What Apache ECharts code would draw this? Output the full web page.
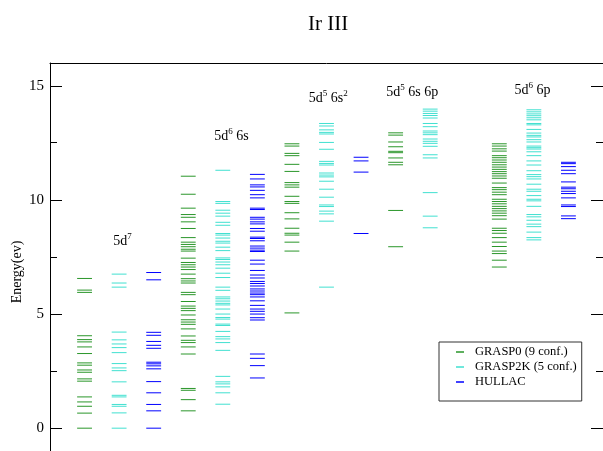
<!DOCTYPE html>
<html>
<head>
<meta charset="utf-8">
<script src="https://cdn.jsdelivr.net/npm/echarts@6/dist/echarts.min.js"></script>
<style>
  html, body { margin: 0; padding: 0; background: #fff; }
  #chart { width: 603px; height: 451px; }
</style>
</head>
<body>
<div id="chart"></div>
<script>
// Ir III energy levels (eV) for each configuration and method
const configs = ['5d7', '5d6 6s', '5d5 6s2', '5d5 6s 6p', '5d6 6p'];
const methods = ['GRASP0 (9 conf.)', 'GRASP2K (5 conf.)', 'HULLAC'];

const grasp0_5d7 = [0, 0.66, 0.96, 1.15, 1.37, 2.06, 2.16, 2.45, 2.55, 2.76, 2.86, 3.27, 3.56, 3.78, 3.88, 4.05, 5.95, 6.05, 6.56];
const grasp2k_5d7 = [0, 0.67, 0.96, 1.04, 1.37, 1.44, 2.03, 2.52, 2.64, 2.83, 3.31, 3.53, 3.69, 3.87, 4.21, 6.18, 6.36, 6.75];
const hullac_5d7 = [0, 0.76, 1.04, 1.55, 2.04, 2.60, 2.73, 2.82, 2.89, 3.50, 3.63, 3.80, 4.07, 4.20, 6.50, 6.82];

const grasp0_5d6_6s = [0.76, 1.25, 1.66, 1.74, 3.25, 3.56, 3.75, 3.85, 4.04, 4.35, 4.55, 4.65, 4.75, 4.96, 5.15, 5.25, 5.35, 5.55, 5.85, 5.95, 6.36, 6.45, 6.55, 6.75, 6.95, 7.06, 7.16, 7.26, 7.45, 7.76, 7.84, 7.95, 8.05, 8.15, 8.35, 8.75, 9.04, 9.24, 9.36, 9.64, 10.25, 11.04];
const grasp2k_5d6_6s = [1.05, 1.55, 1.81, 1.94, 2.03, 2.27, 3.41, 3.75, 3.91, 4.01, 4.24, 4.50, 4.56, 4.78, 4.85, 5.00, 5.22, 5.40, 5.47, 5.57, 5.67, 5.75, 6.04, 6.18, 6.60, 6.79, 7.01, 7.16, 7.28, 7.39, 7.46, 7.78, 7.93, 8.11, 8.19, 8.33, 8.46, 8.53, 8.89, 9.02, 9.29, 9.42, 9.55, 9.85, 9.93, 11.30];
const hullac_5d6_6s = [2.20, 2.74, 3.06, 3.25, 4.74, 4.84, 5.00, 5.12, 5.22, 5.38, 5.58, 5.75, 5.85, 5.92, 6.01, 6.10, 6.23, 6.34, 6.43, 6.58, 6.71, 6.91, 7.19, 7.36, 7.74, 7.80, 7.89, 7.98, 8.21, 8.31, 8.37, 8.63, 8.75, 8.95, 9.04, 9.16, 9.24, 9.58, 9.64, 10.09, 10.23, 10.42, 10.57, 10.66, 10.92, 11.12];

const grasp0_5d5_6s2 = [5.05, 7.76, 8.15, 8.46, 8.54, 8.76, 9.17, 9.44, 9.85, 9.93, 10.16, 10.56, 10.66, 10.76, 11.25, 11.56, 11.94, 12.04, 12.36, 12.46];
const grasp2k_5d5_6s2 = [6.18, 9.07, 9.39, 9.51, 9.71, 9.78, 10.12, 10.47, 10.82, 11.01, 11.09, 11.18, 11.53, 11.60, 11.69, 12.22, 12.52, 12.89, 12.96, 13.07, 13.24, 13.35];
const hullac_5d5_6s2 = [8.53, 11.22, 11.71, 11.87];

const grasp0_5d5_6s_6p = [7.95, 9.54, 11.54, 11.65, 11.84, 12.07, 12.13, 12.33, 12.54, 12.84, 12.94];
const grasp2k_5d5_6s_6p = [8.78, 9.29, 10.32, 11.84, 11.98, 12.35, 12.48, 12.57, 12.67, 12.86, 12.94, 13.02, 13.21, 13.35, 13.59, 13.70, 13.79, 13.89, 13.98];
const hullac_5d5_6s_6p = [];

const grasp0_5d6_6p = [7.06, 7.36, 7.65, 7.76, 7.96, 8.15, 8.35, 8.54, 8.66, 8.76, 9.16, 9.31, 9.42, 9.52, 9.62, 9.72, 9.83, 9.93, 10.03, 10.23, 10.34, 10.45, 10.54, 10.74, 10.95, 11.05, 11.15, 11.24, 11.34, 11.44, 11.54, 11.65, 11.75, 11.85, 11.94, 12.14, 12.24, 12.36, 12.46];
const grasp2k_5d6_6p = [8.25, 8.35, 8.59, 8.83, 8.94, 9.11, 9.26, 9.36, 9.72, 9.96, 10.03, 10.19, 10.38, 10.47, 10.69, 10.92, 11.02, 11.11, 11.28, 11.53, 11.71, 11.94, 12.11, 12.23, 12.29, 12.36, 12.54, 12.64, 12.76, 12.83, 12.93, 13.09, 13.29, 13.35, 13.51, 13.60, 13.69, 13.77, 13.86, 13.95];
const hullac_5d6_6p = [9.18, 9.30, 9.71, 9.78, 10.09, 10.28, 10.38, 10.49, 10.56, 10.79, 11.15, 11.30, 11.46, 11.59, 11.65];

// first column slot of each configuration group; methods sit in consecutive slots
const groupSlots = [0, 3, 6, 9, 12];

// configuration labels (rich text) and their anchor in data space
const configLabels = ['{b|5d}{s|7}', '{b|5d}{s|6}{b| 6s}', '{b|5d}{s|5}{b| 6s}{s|2}', '{b|5d}{s|5}{b| 6s 6p}', '{b|5d}{s|6}{b| 6p}'];
const labelSlot = [1.1, 4.25, 7.05, 9.48, 12.96];
const labelEnergy = [8.2, 12.8, 14.46, 14.73, 14.8];

const yMajorTicks = [0, 5, 10, 15];
const yMinorTicks = [2.5, 7.5, 12.5];

const X_MIN = -1, X_MAX = 15;

const levelsByMethod = [
  [grasp0_5d7, grasp0_5d6_6s, grasp0_5d5_6s2, grasp0_5d5_6s_6p, grasp0_5d6_6p],
  [grasp2k_5d7, grasp2k_5d6_6s, grasp2k_5d5_6s2, grasp2k_5d5_6s_6p, grasp2k_5d6_6p],
  [hullac_5d7, hullac_5d6_6s, hullac_5d5_6s2, hullac_5d5_6s_6p, hullac_5d6_6p]
];
const methodColors = ['#2a962a', '#40e0d0', '#0000ff'];

const SERIF = '"Liberation Serif", "DejaVu Serif", serif';
const HALF = 0.215;     // half length of a level bar, in slot units
const MINOR_LEN = 7;    // minor tick length, px

function levelSeries(m) {
  const data = [];
  levelsByMethod[m].forEach((arr, g) => {
    arr.forEach(e => data.push([groupSlots[g] + m, e]));
  });
  return {
    name: methods[m],
    type: 'custom',
    itemStyle: { color: methodColors[m] },
    silent: true,
    data: data,
    renderItem: function (params, api) {
      const x = api.value(0), e = api.value(1);
      const p1 = api.coord([x - HALF, e]);
      const p2 = api.coord([x + HALF, e]);
      return {
        type: 'line',
        shape: { x1: p1[0], y1: p1[1], x2: p2[0], y2: p2[1] },
        style: { stroke: methodColors[m], lineWidth: 1 }
      };
    }
  };
}

// minor ticks on both vertical frame edges, placed through the scales
const minorTickSeries = {
  name: 'minor-ticks',
  type: 'custom',
  silent: true,
  clip: false,
  z: 10,
  data: yMinorTicks.map(v => [X_MIN, v]),
  renderItem: function (params, api) {
    const v = api.value(1);
    const l = api.coord([X_MIN, v]);
    const r = api.coord([X_MAX, v]);
    const y = Math.round(l[1] - 0.5) + 0.5;
    return {
      type: 'group',
      children: [
        { type: 'line', shape: { x1: l[0], y1: y, x2: l[0] + MINOR_LEN, y2: y }, style: { stroke: '#000', lineWidth: 1 } },
        { type: 'line', shape: { x1: r[0], y1: y, x2: r[0] - MINOR_LEN, y2: y }, style: { stroke: '#000', lineWidth: 1 } }
      ]
    };
  }
};

const labelData = labelSlot.map((s, i) => [s, labelEnergy[i], i]);

function yAxisDef(position, withLabels) {
  return {
    type: 'value', min: -1, max: 16, position: position, offset: 0,
    axisLine: { show: true, onZero: false, lineStyle: { color: '#000', width: 1 } },
    axisTick: { show: true, inside: true, length: 12, customValues: yMajorTicks, lineStyle: { color: '#000' } },
    axisLabel: withLabels
      ? { show: true, customValues: yMajorTicks, margin: 6, color: '#000', fontFamily: SERIF, fontSize: 15 }
      : { show: false },
    splitLine: { show: false }
  };
}

const chart = echarts.init(document.getElementById('chart'), null, { renderer: 'canvas' });

const option = {
  animation: false,
  backgroundColor: '#fff',
  title: {
    text: 'Ir III',
    left: 308,
    top: 14,
    padding: 0,
    textStyle: { fontFamily: SERIF, fontSize: 21, fontWeight: 'normal', color: '#000' }
  },
  grid: { left: 50, top: 63, width: 556, height: 388, show: false, containLabel: false },
  xAxis: {
    type: 'value', min: X_MIN, max: X_MAX, position: 'top',
    axisLine: { show: true, onZero: false, lineStyle: { color: '#000', width: 1 } },
    axisTick: { show: false }, axisLabel: { show: false }, splitLine: { show: false }
  },
  yAxis: [yAxisDef('left', true), yAxisDef('right', false)],
  legend: {
    orient: 'vertical',
    left: 439,
    top: 342,
    padding: [3, 5, 12, 17],
    itemGap: 1,
    itemWidth: 8,
    itemHeight: 1.5,
    borderColor: '#333',
    borderWidth: 1,
    selectedMode: false,
    data: methods.map((n, i) => ({ name: n, icon: 'rect', itemStyle: { color: methodColors[i] } })),
    textStyle: { fontFamily: SERIF, fontSize: 12.5, lineHeight: 14, color: '#000', padding: [0, 0, 0, 6] }
  },
  graphic: [{
    type: 'text',
    x: 17, y: 272,
    rotation: Math.PI / 2,
    style: {
      text: 'Energy(ev)',
      fill: '#000',
      font: '14px ' + SERIF,
      align: 'center',
      verticalAlign: 'middle'
    }
  }],
  series: [
    levelSeries(0),
    levelSeries(1),
    levelSeries(2),
    minorTickSeries,
    {
      name: 'config-labels',
      type: 'custom',
      silent: true,
      data: labelData,
      renderItem: function (params, api) {
        const p = api.coord([api.value(0), api.value(1)]);
        const i = api.value(2);
        return {
          type: 'text',
          x: p[0], y: p[1],
          style: {
            text: configLabels[i],
            align: 'center',
            verticalAlign: 'middle',
            fill: '#000',
            rich: {
              b: { fontFamily: SERIF, fontSize: 14, lineHeight: 18, color: '#000' },
              s: { fontFamily: SERIF, fontSize: 9, lineHeight: 11, verticalAlign: 'top', color: '#000' }
            }
          }
        };
      }
    }
  ]
};

chart.setOption(option);
</script>
</body>
</html>
